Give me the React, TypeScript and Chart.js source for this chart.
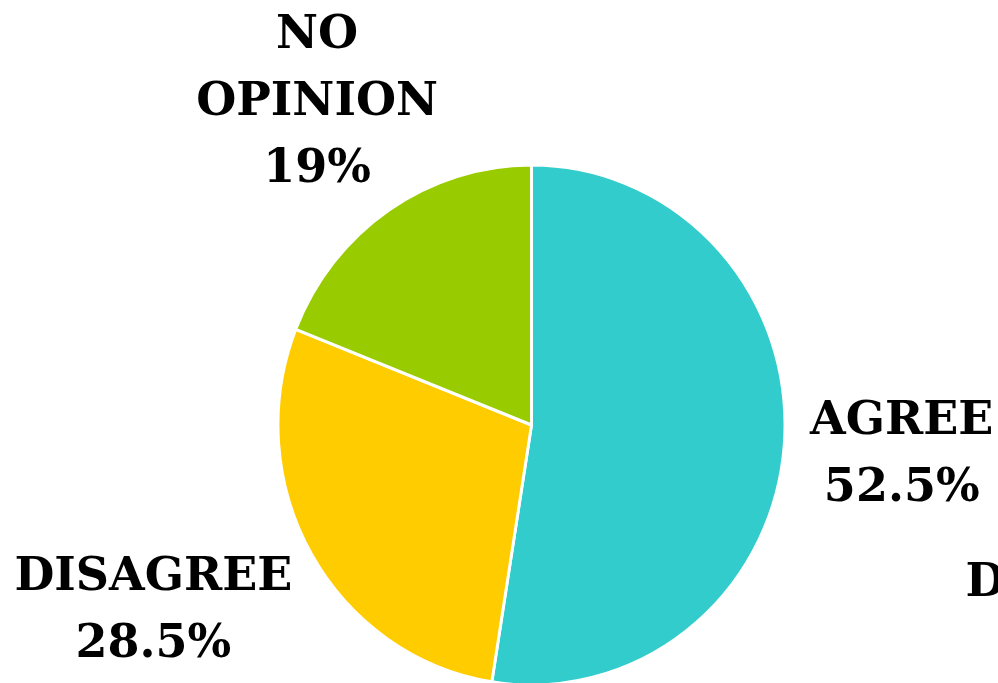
import React, { useEffect, useRef } from "react";
import { Chart, registerables } from "chart.js";

Chart.register(...registerables);

const categories = ["AGREE", "DISAGREE", "NO OPINION"];
const values = [52.5, 28.5, 19];
const colors = ["#33CCCC", "#FFCC00", "#99CC00"];
const labelLines = [["AGREE", "52.5%"], ["DISAGREE", "28.5%"], ["NO", "OPINION", "19%"]];
const labelRadius = [1.44, 1.63, 1.515];
const labelShiftX = [-3, -10, 7];
const labelShiftY = [1, -23, 4];
const strayText = "D";

const FONT = "bold 46px 'DejaVu Serif'";
const LINE_H = 67;
const X_SQUEEZE = 0.975;

const squeezePlugin = {
  id: "squeeze",
  beforeDatasetsDraw(chart: any) {
    const arc = chart.getDatasetMeta(0).data[0];
    const ctx = chart.ctx;
    ctx.save();
    ctx.translate(arc.x, arc.y);
    ctx.scale(X_SQUEEZE, 1);
    ctx.translate(-arc.x, -arc.y);
  },
  afterDatasetsDraw(chart: any) {
    chart.ctx.restore();
  },
};

const labelPlugin = {
  id: "sliceLabels",
  afterDraw(chart: any) {
    const ctx = chart.ctx;
    const meta = chart.getDatasetMeta(0);
    ctx.save();
    ctx.fillStyle = "#000";
    ctx.font = FONT;
    ctx.textAlign = "center";
    ctx.textBaseline = "middle";
    meta.data.forEach((arc: any, i: number) => {
      const { x, y, startAngle, endAngle, outerRadius } = arc.getProps(
        ["x", "y", "startAngle", "endAngle", "outerRadius"],
        true
      );
      const mid = (startAngle + endAngle) / 2;
      const cx = x + Math.cos(mid) * outerRadius * labelRadius[i] + labelShiftX[i];
      const cy = y + Math.sin(mid) * outerRadius * labelRadius[i] + labelShiftY[i];
      const lines = labelLines[i];
      const top = cy - ((lines.length - 1) * LINE_H) / 2;
      lines.forEach((t, j) => ctx.fillText(t, cx, top + j * LINE_H));
    });
    // partial label of a neighbouring chart, cut by the right edge
    const a0 = meta.data[0];
    ctx.textAlign = "left";
    ctx.fillText(strayText, a0.x + 434, a0.y + 159);
    ctx.restore();
  },
};

export default function App() {
  const ref = useRef<HTMLCanvasElement>(null);
  useEffect(() => {
    if (!ref.current) return;
    const chart = new Chart(ref.current, {
      type: "pie",
      data: {
        labels: categories,
        datasets: [
          {
            data: values,
            backgroundColor: colors,
            borderColor: "#FFFFFF",
            borderWidth: 3,
          },
        ],
      },
      options: {
        responsive: false,
        animation: false,
        radius: 260,
        layout: { padding: { left: 65, right: 0, top: 167, bottom: 0 } },
        plugins: {
          legend: { display: false },
          tooltip: { enabled: false },
        },
      } as any,
      plugins: [squeezePlugin, labelPlugin],
    });
    return () => chart.destroy();
  }, []);
  return (
    <div style={{ position: "fixed", left: 0, top: 0, width: 998, height: 683, background: "#fff", overflow: "hidden" }}>
      <canvas ref={ref} width={998} height={683} style={{ display: "block" }} />
    </div>
  );
}
